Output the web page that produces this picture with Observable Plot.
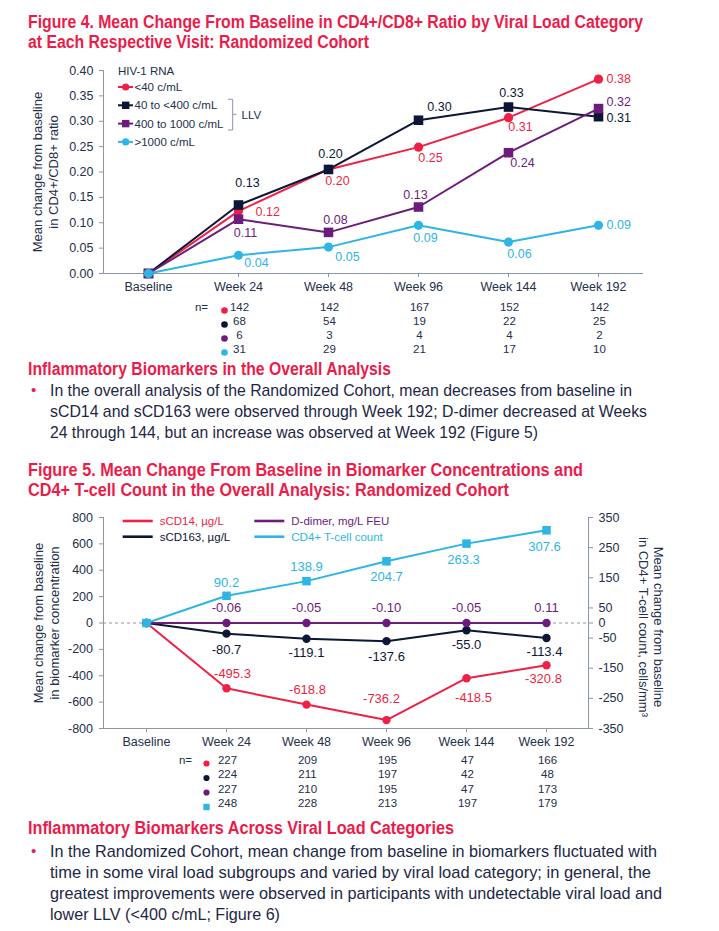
<!DOCTYPE html>
<html><head><meta charset="utf-8">
<script src="https://cdn.jsdelivr.net/npm/d3@7"></script>
<script src="https://cdn.jsdelivr.net/npm/@observablehq/plot@0.6"></script>
<style>
html,body{margin:0;padding:0;background:#fff;}
body{position:relative;width:719px;height:931px;overflow:hidden;font-family:"Liberation Sans",Arial,sans-serif;}
.ln{position:absolute;white-space:nowrap;transform-origin:0 0;line-height:1;font-family:"Liberation Sans",Arial,sans-serif;}
.red{color:#ec1c4a;font-weight:bold;}
.txt{color:#1d2746;}
.bul{color:#ec1c4a;}
.fig{position:absolute;left:0;}
#ov{position:absolute;left:0;top:0;pointer-events:none;}
</style></head><body>
<script>
// ---------- DATA ----------
const visits = ["Baseline", "Week 24", "Week 48", "Week 96", "Week 144", "Week 192"];

// Figure 4: CD4+/CD8+ ratio by viral load category
const groups4 = ["<40 c/mL", "40 to <400 c/mL", "400 to 1000 c/mL", ">1000 c/mL"];
const ratioLt40 = [0, 0.123, 0.205, 0.249, 0.307, 0.383];
const ratioLt40Text = ["", "0.12", "0.20", "0.25", "0.31", "0.38"];
const ratio40to400 = [0, 0.135, 0.205, 0.302, 0.328, 0.309];
const ratio40to400Text = ["", "0.13", "0.20", "0.30", "0.33", "0.31"];
const ratio400to1000 = [0, 0.107, 0.081, 0.131, 0.238, 0.325];
const ratio400to1000Text = ["", "0.11", "0.08", "0.13", "0.24", "0.32"];
const ratioGt1000 = [0, 0.036, 0.052, 0.095, 0.062, 0.095];
const ratioGt1000Text = ["", "0.04", "0.05", "0.09", "0.06", "0.09"];
const nVisits = ["Week 24", "Week 48", "Week 96", "Week 144", "Week 192"];
const nLt40 = [142, 142, 167, 152, 142];
const n40to400 = [68, 54, 19, 22, 25];
const n400to1000 = [6, 3, 4, 4, 2];
const nGt1000 = [31, 29, 21, 17, 10];
const yTicks4 = [0, 0.05, 0.10, 0.15, 0.20, 0.25, 0.30, 0.35, 0.40];

// Figure 5: biomarkers and CD4+ T-cell count
const series5 = ["sCD14, \u00b5g/L", "sCD163, \u00b5g/L", "D-dimer, mg/L FEU", "CD4+ T-cell count"];
const sCD14 = [0, -495.3, -618.8, -736.2, -418.5, -320.8];
const sCD163 = [0, -80.7, -119.1, -137.6, -55.0, -113.4];
const dDimer = [0, -0.06, -0.05, -0.10, -0.05, 0.11];
const cd4Count = [0, 90.2, 138.9, 204.7, 263.3, 307.6];
const nSCD14 = [227, 209, 195, 47, 166];
const nSCD163 = [224, 211, 197, 42, 48];
const nDDimer = [227, 210, 195, 47, 173];
const nCD4 = [248, 228, 213, 197, 179];
const leftTicks5 = [800, 600, 400, 200, 0, -200, -400, -600, -800];
const rightTicks5 = [350, 250, 150, 50, 0, -50, -150, -250, -350];

// Page text
const title4 = ["Figure 4. Mean Change From Baseline in CD4+/CD8+ Ratio by Viral Load Category", "at Each Respective Visit: Randomized Cohort"];
const heading1 = "Inflammatory Biomarkers in the Overall Analysis";
const bullet1 = ["In the overall analysis of the Randomized Cohort, mean decreases from baseline in",
  "sCD14 and sCD163 were observed through Week 192; D-dimer decreased at Weeks",
  "24 through 144, but an increase was observed at Week 192 (Figure 5)"];
const title5 = ["Figure 5. Mean Change From Baseline in Biomarker Concentrations and", "CD4+ T-cell Count in the Overall Analysis: Randomized Cohort"];
const heading2 = "Inflammatory Biomarkers Across Viral Load Categories";
const bullet2 = ["In the Randomized Cohort, mean change from baseline in biomarkers fluctuated with",
  "time in some viral load subgroups and varied by viral load category; in general, the",
  "greatest improvements were observed in participants with undetectable viral load and",
  "lower LLV (<400 c/mL; Figure 6)"];

// ---------- STYLE / LAYOUT ----------
const C = {red: "#f01f45", navy: "#0c1737", purple: "#6c1d7c", blue: "#2db6e4", axis: "#8b95a9", text: "#232f4b", dash: "#8b95a9"};
const FONT = "'Liberation Sans', Arial, sans-serif";

// label offsets [dx, dy, anchor] per visit (styling, not data)
const off4 = [
  [null, [17, 1, "start"], [9, 12, "middle"], [12, 11, "middle"], [12, 9, "middle"], [8, 0, "start"]],
  [null, [9, -22, "middle"], [2, -15, "middle"], [21, -13, "middle"], [3, -14, "middle"], [8, 1, "start"]],
  [null, [7, 14, "middle"], [7, -12, "middle"], [-3, -12, "middle"], [14, 10, "middle"], [8, -7, "start"]],
  [null, [18, 8, "middle"], [19, 10, "middle"], [7, 13, "middle"], [11, 12, "middle"], [8, 0, "start"]]
];
const off5 = [
  [null, [6, -14], [1, -15], [-5, -21], [7, 20], [-3, 14]],
  [null, [0, 16], [0, 14], [0, 16], [0, 15], [-2, 14]],
  [null, [0, -15], [0, -15], [0, -15], [0, -15], [0, -15]],
  [null, [0, -13], [0, -14], [0, 16], [-3, 16], [-2, 17]]
];

// ---------- PAGE TEXT ----------
function addLine(str, x, cy, w, size, cls) {
  const d = document.createElement("div");
  d.className = "ln " + cls;
  d.style.fontSize = size + "px";
  d.textContent = str;
  document.body.appendChild(d);
  const r = d.getBoundingClientRect();
  d.style.left = x + "px";
  d.style.top = (cy - r.height / 2) + "px";
  if (w) d.style.transform = `scaleX(${w / r.width})`;
}
addLine(title4[0], 28, 22, 615, 18, "red");
addLine(title4[1], 28, 42, 341, 18, "red");
addLine(heading1, 28, 370, 363, 17.5, "red");
addLine("\u2022", 31, 389, null, 15, "bul");
addLine(bullet1[0], 50, 390, 582, 17, "txt");
addLine(bullet1[1], 50, 411, 597, 17, "txt");
addLine(bullet1[2], 50, 432, 488, 17, "txt");
addLine(title5[0], 28, 470, 555, 18, "red");
addLine(title5[1], 28, 490, 481, 18, "red");
addLine(heading2, 28, 829, 426, 17.5, "red");
addLine("\u2022", 31, 850, null, 15, "bul");
bullet2.forEach((s, i) => addLine(s, 50, 851 + 21 * i, [607, 601, 612, 230][i], 17, "txt"));

// ---------- FIGURE 4 ----------
const s4 = [
  {name: groups4[0], v: ratioLt40, t: ratioLt40Text, n: nLt40, color: C.red, symbol: "circle"},
  {name: groups4[1], v: ratio40to400, t: ratio40to400Text, n: n40to400, color: C.navy, symbol: "square"},
  {name: groups4[2], v: ratio400to1000, t: ratio400to1000Text, n: n400to1000, color: C.purple, symbol: "square"},
  {name: groups4[3], v: ratioGt1000, t: ratioGt1000Text, n: nGt1000, color: C.blue, symbol: "circle"}
];
const marks4 = [
  Plot.ruleY([0], {stroke: C.axis}),
  Plot.frame({anchor: "left", stroke: C.axis}),
  Plot.axisY(yTicks4, {tickFormat: d => d.toFixed(2), tickSize: 4, tickPadding: 6, fontSize: 12.5, stroke: C.axis, fill: C.text, label: null}),
  Plot.axisX({tickSize: 4, tickPadding: 5, fontSize: 12.5, stroke: C.axis, fill: C.text, label: null}),
  Plot.text(["Mean change from baseline\nin CD4+/CD8+ ratio"], {frameAnchor: "left", textAnchor: "middle", lineAnchor: "middle", rotate: -90, dx: -59, fontSize: 13, lineHeight: 1.25, fill: C.text})
];
s4.forEach((s, si) => {
  const rows = visits.map((vis, i) => ({visit: vis, value: s.v[i], label: s.t[i], i}));
  marks4.push(Plot.line(rows, {x: "visit", y: "value", stroke: s.color, strokeWidth: 2}));
  marks4.push(Plot.dot(rows, {x: "visit", y: "value", fill: s.color, symbol: s.symbol, r: s.symbol === "square" ? 5.4 : 4.6}));
  rows.slice(1).forEach(r => {
    const [dx, dy, anchor] = off4[si][r.i];
    marks4.push(Plot.text([r], {x: "visit", y: "value", text: "label", dx, dy, textAnchor: anchor, fill: s.color, fontSize: 12.5}));
  });
  const nrows = nVisits.map((vis, i) => ({visit: vis, n: s.n[i]}));
  marks4.push(Plot.text(nrows, {x: "visit", text: "n", frameAnchor: "bottom", dy: 37 + 14 * si, dx: 1, fontSize: 11.5, fill: C.text}));
  marks4.push(Plot.dot([nVisits[0]], {x: d => d, frameAnchor: "bottom", dy: 37 + 14 * si, dx: -14, r: 3.3, fill: s.color}));
});
marks4.push(Plot.text(["n="], {x: () => nVisits[0], frameAnchor: "bottom", dy: 37, dx: -37, fontSize: 11.5, fill: C.text}));

const fig4 = Plot.plot({
  width: 719, height: 310,
  marginTop: 20, marginBottom: 87, marginLeft: 103, marginRight: 76,
  x: {type: "point", domain: visits, padding: 0.5},
  y: {domain: [0, 0.4]},
  style: {fontFamily: FONT, color: C.text, background: "transparent"},
  marks: marks4
});
const f4 = document.createElement("div");
f4.className = "fig"; f4.style.top = "50px";
f4.appendChild(fig4);
document.body.appendChild(f4);

// ---------- FIGURE 5 ----------
const k5 = 800 / 350; // right-axis (cells/mm3) to left-axis units
const s5 = [
  {name: series5[0], v: sCD14, n: nSCD14, color: C.red, symbol: "circle", scale: 1, fmt: d => d.toFixed(1)},
  {name: series5[1], v: sCD163, n: nSCD163, color: C.navy, symbol: "circle", scale: 1, fmt: d => d.toFixed(1)},
  {name: series5[2], v: dDimer, n: nDDimer, color: C.purple, symbol: "circle", scale: 1, fmt: d => d.toFixed(2)},
  {name: series5[3], v: cd4Count, n: nCD4, color: C.blue, symbol: "square", scale: k5, fmt: d => d.toFixed(1)}
];
const marks5 = [
  Plot.ruleY([0], {stroke: C.dash, strokeDasharray: "3,3", strokeWidth: 1}),
  Plot.ruleY([-800], {stroke: C.axis}),
  Plot.frame({anchor: "left", stroke: C.axis}),
  Plot.frame({anchor: "right", stroke: C.axis}),
  Plot.axisY(leftTicks5, {tickFormat: d => String(d), tickSize: 4, tickPadding: 6.5, fontSize: 12.5, stroke: C.axis, fill: C.text, label: null}),
  Plot.axisY(rightTicks5.map(v => v * k5), {anchor: "right", tickFormat: d => String(Math.round(d / k5)), tickSize: 4, tickPadding: 6, fontSize: 12.5, stroke: C.axis, fill: C.text, label: null}),
  Plot.axisX({tickSize: 4, tickPadding: 4.5, fontSize: 12.5, stroke: C.axis, fill: C.text, label: null}),
  Plot.text(["Mean change from baseline\nin biomarker concentration"], {frameAnchor: "left", textAnchor: "middle", lineAnchor: "middle", rotate: -90, dx: -58, fontSize: 13, lineHeight: 1.25, fill: C.text}),
  Plot.text(["Mean change from baseline\nin CD4+ T-cell count, cells/mm\u00b3"], {frameAnchor: "right", textAnchor: "middle", lineAnchor: "middle", rotate: 90, dx: 63, dy: 4, fontSize: 13, lineHeight: 1.2, fill: C.text})
];
const rowY5 = [35, 49.5, 64, 78.5];
s5.forEach((s, si) => {
  const rows = visits.map((vis, i) => ({visit: vis, value: s.v[i], label: s.fmt(s.v[i]), i}));
  const yv = d => d.value * s.scale;
  marks5.push(Plot.line(rows, {x: "visit", y: yv, stroke: s.color, strokeWidth: 2}));
  marks5.push(Plot.dot(rows, {x: "visit", y: yv, fill: s.color, symbol: s.symbol, r: s.symbol === "square" ? 4.8 : 4.2}));
  rows.slice(1).forEach(r => {
    const [dx, dy] = off5[si][r.i];
    marks5.push(Plot.text([r], {x: "visit", y: yv, text: "label", dx, dy, fill: s.color, fontSize: 13}));
  });
  const nrows = nVisits.map((vis, i) => ({visit: vis, n: s.n[i]}));
  marks5.push(Plot.text(nrows, {x: "visit", text: "n", frameAnchor: "bottom", dy: rowY5[si], dx: 1, fontSize: 11.5, fill: C.text}));
  marks5.push(Plot.dot([nVisits[0]], {x: d => d, frameAnchor: "bottom", dy: rowY5[si], dx: -20, r: s.symbol === "square" ? 3.6 : 3.1, symbol: s.symbol, fill: s.color}));
});
marks5.push(Plot.text(["n="], {x: () => nVisits[0], frameAnchor: "bottom", dy: rowY5[0], dx: -41, fontSize: 11.5, fill: C.text}));

const fig5 = Plot.plot({
  width: 719, height: 310,
  marginTop: 12, marginBottom: 87, marginLeft: 103, marginRight: 131,
  x: {type: "point", domain: visits, padding: 0.5},
  y: {domain: [-800, 800]},
  style: {fontFamily: FONT, color: C.text, background: "transparent"},
  marks: marks5
});
const f5 = document.createElement("div");
f5.className = "fig"; f5.style.top = "505px";
f5.appendChild(fig5);
document.body.appendChild(f5);

// ---------- LEGENDS (overlay) ----------
const ov = d3.select("body").append("svg").attr("id", "ov").attr("width", 719).attr("height", 931)
  .style("font-family", FONT);
// Figure 4 legend
ov.append("text").attr("x", 118).attr("y", 71).attr("dy", "0.35em").attr("font-size", 11.5).attr("fill", C.text).text("HIV-1 RNA");
s4.forEach((s, i) => {
  const y = 87 + 18.3 * i;
  ov.append("line").attr("x1", 118).attr("x2", 133).attr("y1", y).attr("y2", y).attr("stroke", s.color).attr("stroke-width", 2);
  if (s.symbol === "circle") ov.append("circle").attr("cx", 125.7).attr("cy", y).attr("r", 3.6).attr("fill", s.color);
  else ov.append("rect").attr("x", 122).attr("y", y - 3.7).attr("width", 7.4).attr("height", 7.4).attr("fill", s.color);
  ov.append("text").attr("x", 134.5).attr("y", y).attr("dy", "0.35em").attr("font-size", 11.5).attr("fill", C.text).text(s.name);
});
ov.append("path").attr("d", "M228,99.3H232.7V130H228M232.7,114.3H236.5").attr("fill", "none").attr("stroke", C.axis).attr("stroke-width", 1);
ov.append("text").attr("x", 241.5).attr("y", 114.5).attr("dy", "0.35em").attr("font-size", 11.5).attr("fill", C.text).text("LLV");
// Figure 5 legend
s5.forEach((s, i) => {
  const x = i < 2 ? 122.7 : 254.3;
  const y = i % 2 === 0 ? 521 : 536.7;
  ov.append("line").attr("x1", x).attr("x2", x + 30).attr("y1", y).attr("y2", y).attr("stroke", s.color).attr("stroke-width", 2.6);
  ov.append("text").attr("x", x + 37).attr("y", y).attr("dy", "0.35em").attr("font-size", 11.5).attr("fill", s.color).text(s.name);
});
</script>
</body></html>
